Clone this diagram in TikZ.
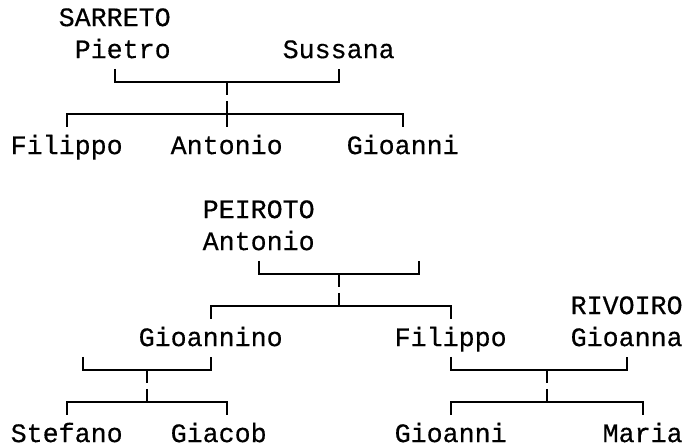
\documentclass[tikz,border=0pt]{standalone}
\usepackage{fontspec}
\setmonofont[FakeBold=0.4]{Liberation Mono}
\usetikzlibrary{calc}
\tikzset{
	person/.style={inner sep=0pt, anchor=base, font=\ttfamily\fontsize{13.33}{16}\selectfont},
	kin/.style={line width=1.15pt},
}
\begin{document}
\begin{tikzpicture}[x=8pt,y=-16pt]
		\useasboundingbox (-1.169,-0.156) rectangle (41.71,13.81);
		% row tops, middles and bottoms
		\foreach \r in {2,3,8,9,11,12} {
			\coordinate (t\r) at (0,\r);
			\coordinate (m\r) at (0,\r+0.4);
			\coordinate (b\r) at (0,\r+0.8);
		}
		% SARRETO
		\node[person] (sarreto) at (6,0.66) {SARRETO};
		\node[person] (pietro) at (6.5,1.66) {Pietro};
		\node[person] (sussana) at (20,1.66) {Sussana};
		\node[person] (filippoA) at (3,4.66) {Filippo};
		\node[person] (antonioA) at (13,4.66) {Antonio};
		\node[person] (gioanniA) at (24,4.66) {Gioanni};
		\draw[kin] (sarreto |- t2) |- (sussana |- m2) -- (sussana |- t2);
		\draw[kin] (antonioA |- m2) -- (antonioA |- b2);
		\draw[kin] (antonioA |- t3) -- (antonioA |- b3);
		\draw[kin] (filippoA |- b3) |- (gioanniA |- m3) -- (gioanniA |- b3);
		% PEIROTO
		\node[person] (peiroto) at (15,6.66) {PEIROTO};
		\node[person] (antonioB) at (15,7.66) {Antonio};
		\coordinate (spouseB) at (25,7.66);
		\coordinate (famB) at (20,8.4);
		\node[person] (rivoiro) at (38,9.66) {RIVOIRO};
		\node[person] (gioannino) at (12,10.66) {Gioannino};
		\node[person] (filippoB) at (27,10.66) {Filippo};
		\node[person] (gioanna) at (38,10.66) {Gioanna};
		\draw[kin] (antonioB |- t8) |- (spouseB |- m8) -- (spouseB |- t8);
		\draw[kin] (famB |- m8) -- (famB |- b8);
		\draw[kin] (famB |- t9) -- (famB |- m9);
		\draw[kin] (gioannino |- b9) |- (filippoB |- m9) -- (filippoB |- b9);
		% Gioannino
		\coordinate (spouseC) at (4,10.66);
		\coordinate (famC) at (8,11.4);
		\node[person] (stefano) at (3,13.66) {Stefano};
		\node[person] (giacob) at (12.5,13.66) {Giacob};
		\draw[kin] (spouseC |- t11) |- (gioannino |- m11) -- (gioannino |- t11);
		\draw[kin] (famC |- m11) -- (famC |- b11);
		\draw[kin] (famC |- t12) -- (famC |- m12);
		\draw[kin] (stefano |- b12) |- ($ (giacob |- m12) + (0.5,0) $) -- ($ (giacob |- b12) + (0.5,0) $);
		% Filippo and Gioanna
		\coordinate (famD) at (33,11.4);
		\node[person] (gioanniB) at (27,13.66) {Gioanni};
		\node[person] (maria) at (39,13.66) {Maria};
		\draw[kin] (filippoB |- t11) |- (gioanna |- m11) -- (gioanna |- t11);
		\draw[kin] (famD |- m11) -- (famD |- b11);
		\draw[kin] (famD |- t12) -- (famD |- m12);
		\draw[kin] (gioanniB |- b12) |- (maria |- m12) -- (maria |- b12);
	\end{tikzpicture}
\end{document}
